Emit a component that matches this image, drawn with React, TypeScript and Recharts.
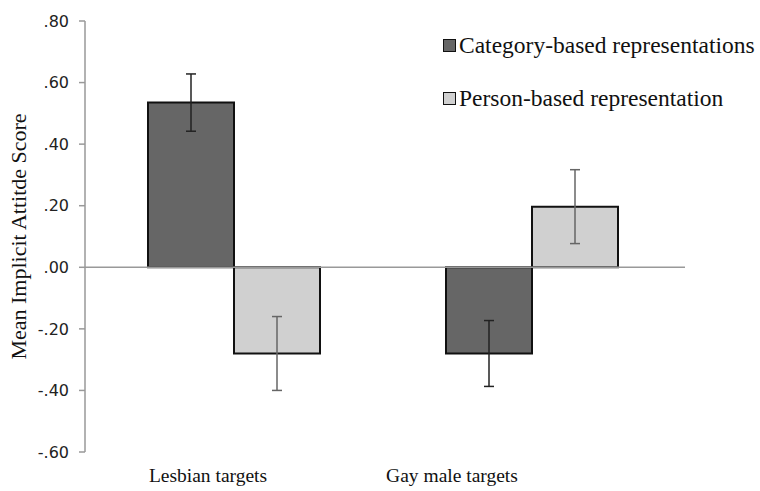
import { BarChart, Bar, XAxis, YAxis, ErrorBar, ReferenceLine } from 'recharts';

// Target groups and mean implicit attitude scores per representation type
const targets = ['Lesbian targets', 'Gay male targets'];
const categoryMeans = [0.535, -0.28];
const categoryErrors = [0.093, 0.107];
const personMeans = [-0.28, 0.197];
const personErrors = [0.12, 0.12];
const yTicks = [-0.6, -0.4, -0.2, 0, 0.2, 0.4, 0.6, 0.8];

const data = targets.map((name, i) => ({
  name,
  category: categoryMeans[i],
  categoryErr: categoryErrors[i],
  person: personMeans[i],
  personErr: personErrors[i],
}));

const SERIF = '"Liberation Serif", "Times New Roman", serif';
const SANS = '"DejaVu Sans", Verdana, sans-serif';

// APA-ish tick format: ".40", "-.20"
const fmtTick = (v: number) => {
  const s = Math.abs(v).toFixed(2).replace(/^0/, '');
  return v < 0 ? '-' + s : s;
};

// category labels sit left of the bar pair centres
const labelShift: Record<string, number> = {
  'Lesbian targets': -26,
  'Gay male targets': -80,
};

const CategoryTick = ({ x, y, payload }: any) => (
  <text
    x={x + (labelShift[payload.value] ?? 0)}
    y={y}
    dy={22}
    textAnchor="middle"
    fontFamily={SERIF}
    fontSize={19.5}
    fill="#111"
  >
    {payload.value}
  </text>
);

const legendItems = [
  { label: 'Category-based representations', fill: '#666666' },
  { label: 'Person-based representation', fill: '#d0d0d0' },
];

const ChartLegend = () => (
  <div
    style={{
      position: 'absolute',
      left: 443,
      top: 31,
      fontFamily: SERIF,
      fontSize: 23.5,
      color: '#111',
      lineHeight: '28px',
      whiteSpace: 'nowrap',
    }}
  >
    {legendItems.map((item) => (
      <div key={item.label} style={{ display: 'flex', alignItems: 'center', height: 28, marginBottom: 25 }}>
        <span
          style={{
            display: 'inline-block',
            width: 11,
            height: 11,
            background: item.fill,
            border: '1px solid #111',
            marginRight: 3,
          }}
        />
        <span>{item.label}</span>
      </div>
    ))}
  </div>
);

export default function App() {
  return (
    <div style={{ position: 'absolute', left: 0, top: 0, width: 760, height: 491, background: '#fff' }}>
      <BarChart
        width={760}
        height={491}
        data={data}
        margin={{ top: 21, right: 75, bottom: 0, left: 0 }}
        barCategoryGap={63}
        barGap={0}
      >
        <XAxis
          dataKey="name"
          axisLine={false}
          tickLine={false}
          height={39}
          padding={{ left: 0, right: 4 }}
          tick={<CategoryTick />}
          interval={0}
        />
        <YAxis
          domain={[-0.6, 0.8]}
          ticks={yTicks}
          width={85}
          tickFormatter={fmtTick}
          axisLine={{ stroke: '#999', strokeWidth: 1.5 }}
          tickLine={{ stroke: '#999', strokeWidth: 1.5 }}
          tickSize={6}
          tickMargin={10}
          tick={{ fontFamily: SANS, fontSize: 16, fill: '#222' }}
          label={{
            value: 'Mean Implicit Attitde Score',
            angle: -90,
            position: 'insideLeft',
            offset: 18,
            style: { fontFamily: SERIF, fontSize: 22, fill: '#111', textAnchor: 'middle' },
          }}
        />
        <ReferenceLine y={0} stroke="#999" strokeWidth={1.5} />
        <Bar dataKey="category" fill="#666666" stroke="#111" strokeWidth={2} isAnimationActive={false}>
          <ErrorBar dataKey="categoryErr" width={5} stroke="#222" strokeWidth={1.5} direction="y" />
        </Bar>
        <Bar dataKey="person" fill="#d0d0d0" stroke="#111" strokeWidth={2} isAnimationActive={false}>
          <ErrorBar dataKey="personErr" width={5} stroke="#666" strokeWidth={1.5} direction="y" />
        </Bar>
      </BarChart>
      <ChartLegend />
    </div>
  );
}
